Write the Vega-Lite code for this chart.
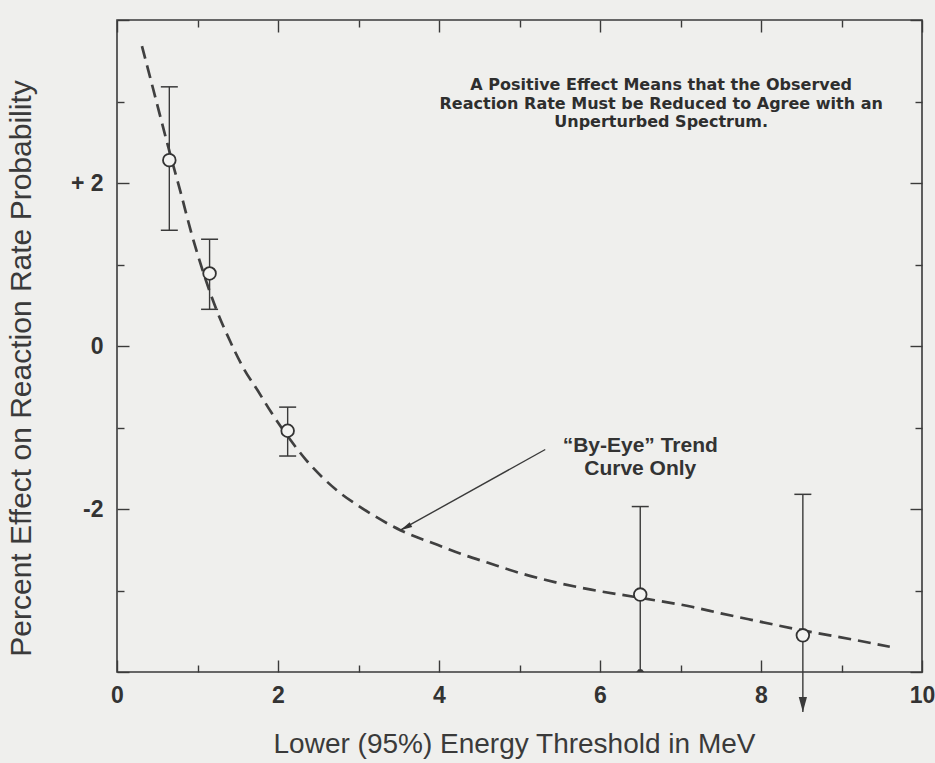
{
  "$schema": "https://vega.github.io/schema/vega-lite/v6.json",
  "width": 805,
  "height": 652,
  "autosize": {"type": "none"},
  "padding": {"left": 117, "top": 20, "right": 13, "bottom": 91},
  "background": "#efefed",
  "config": {
    "font": "Liberation Sans",
    "view": {"stroke": "#3a3a3a", "strokeWidth": 1.6},
    "axis": {"domain": false, "grid": false, "tickColor": "#3a3a3a", "tickWidth": 1.4, "labelColor": "#333333", "titleColor": "#3a3a3a"}
  },
  "datasets": {
    "trend": [
      {"energy": 0.31, "effect": 3.68},
      {"energy": 0.45, "effect": 3.15},
      {"energy": 0.64, "effect": 2.43},
      {"energy": 0.8, "effect": 1.85},
      {"energy": 0.92, "effect": 1.40},
      {"energy": 1.05, "effect": 0.97},
      {"energy": 1.23, "effect": 0.46},
      {"energy": 1.4, "effect": 0.07},
      {"energy": 1.57, "effect": -0.27},
      {"energy": 1.75, "effect": -0.55},
      {"energy": 1.92, "effect": -0.82},
      {"energy": 2.13, "effect": -1.12},
      {"energy": 2.35, "effect": -1.40},
      {"energy": 2.55, "effect": -1.61},
      {"energy": 2.73, "effect": -1.77},
      {"energy": 2.95, "effect": -1.93},
      {"energy": 3.14, "effect": -2.05},
      {"energy": 3.52, "effect": -2.26},
      {"energy": 3.98, "effect": -2.44},
      {"energy": 4.3, "effect": -2.56},
      {"energy": 4.61, "effect": -2.66},
      {"energy": 5.02, "effect": -2.79},
      {"energy": 5.45, "effect": -2.90},
      {"energy": 5.89, "effect": -2.99},
      {"energy": 6.5, "effect": -3.09},
      {"energy": 7.14, "effect": -3.20},
      {"energy": 7.5, "effect": -3.28},
      {"energy": 7.88, "effect": -3.36},
      {"energy": 8.52, "effect": -3.49},
      {"energy": 9.13, "effect": -3.60},
      {"energy": 9.6, "effect": -3.69}
    ],
    "measured": [
      {"energy": 0.65, "effect": 2.28, "lo": 1.42, "hi": 3.18, "lowEnd": "cap"},
      {"energy": 1.15, "effect": 0.89, "lo": 0.45, "hi": 1.31, "lowEnd": "cap"},
      {"energy": 2.12, "effect": -1.04, "lo": -1.35, "hi": -0.75, "lowEnd": "cap"},
      {"energy": 6.5, "effect": -3.05, "lo": -4.0, "hi": -1.97, "lowEnd": "base"},
      {"energy": 8.52, "effect": -3.55, "lo": -4.49, "hi": -1.82, "lowEnd": "arrow"}
    ],
    "pointer": [
      {"energy": 5.32, "effect": -1.27, "energy2": 3.52, "effect2": -2.26}
    ],
    "notes": [
      {"energy": 6.76, "effect": 3.2, "kind": "top", "text": "A Positive Effect Means that the Observed\nReaction Rate Must be Reduced to Agree with an\nUnperturbed Spectrum."},
      {"energy": 6.5, "effect": -1.227, "kind": "trend", "text": "“By-Eye” Trend\nCurve Only"}
    ]
  },
  "layer": [
    {
      "data": {"name": "trend"},
      "mark": {"type": "line", "stroke": "#404040", "strokeWidth": 2.7, "strokeDash": [13, 7], "interpolate": "monotone"},
      "encoding": {
        "x": {"field": "energy", "type": "quantitative", "scale": {"domain": [0, 10], "nice": false},
          "axis": {"orient": "bottom", "values": [0, 2, 4, 6, 8, 10], "ticks": false, "labelPadding": 12, "labelFontSize": 23, "labelFontWeight": "bold", "labelFlush": false,
            "title": "Lower (95%) Energy Threshold in MeV", "titleFontSize": 28, "titleFontWeight": "normal", "titleBaseline": "alphabetic", "titleY": 80, "titleX": 397}},
        "y": {"field": "effect", "type": "quantitative", "scale": {"domain": [-4, 4], "nice": false, "zero": false},
          "axis": {"orient": "left", "values": [-2, 0, 2], "ticks": false, "labelPadding": 14, "labelFontSize": 23, "labelFontWeight": "bold",
            "labelExpr": "datum.value > 0 ? '+ ' + datum.value : (datum.value < 0 ? '-' + abs(datum.value) : '0')",
            "title": "Percent Effect on Reaction Rate Probability", "titleFontSize": 30, "titleFontWeight": "normal", "titleBaseline": "alphabetic", "titleAngle": 270, "titleX": -87, "titleY": 348}}
      }
    },
    {
      "data": {"name": "measured"},
      "mark": {"type": "rule", "stroke": "#3a3a3a", "strokeWidth": 1.4},
      "encoding": {
        "x": {"field": "energy", "type": "quantitative", "scale": {"domain": [0, 10]},
          "axis": {"orient": "bottom", "values": [0, 2, 4, 6, 8, 10], "tickSize": -12, "labels": false, "title": null}},
        "y": {"field": "lo", "type": "quantitative", "scale": {"domain": [-4, 4]},
          "axis": {"orient": "left", "values": [-4, -2, 0, 2, 4], "tickSize": -12, "labels": false, "title": null}},
        "y2": {"field": "hi"}
      }
    },
    {
      "data": {"name": "measured"},
      "transform": [
        {"fold": ["lo", "hi"], "as": ["end", "bound"]},
        {"filter": "datum.end == 'hi' || datum.lowEnd == 'cap'"}
      ],
      "mark": {"type": "tick", "orient": "horizontal", "size": 17, "thickness": 1.5, "color": "#3a3a3a", "opacity": 1},
      "encoding": {
        "x": {"field": "energy", "type": "quantitative", "scale": {"domain": [0, 10]},
          "axis": {"orient": "bottom", "values": [1, 3, 5, 7, 9], "tickSize": -7, "labels": false, "title": null}},
        "y": {"field": "bound", "type": "quantitative", "scale": {"domain": [-4, 4]},
          "axis": {"orient": "left", "values": [-3, -1, 1, 3], "tickSize": -7, "labels": false, "title": null}}
      }
    },
    {
      "data": {"name": "measured"},
      "transform": [{"filter": "datum.lowEnd == 'base'"}],
      "mark": {"type": "point", "shape": "M-1,0L1,0L0.45,-0.7L-0.45,-0.7Z", "size": 64, "filled": true, "color": "#3a3a3a", "opacity": 1},
      "encoding": {
        "x": {"field": "energy", "type": "quantitative", "scale": {"domain": [0, 10]}, "axis": null},
        "y": {"field": "lo", "type": "quantitative", "scale": {"domain": [-4, 4]}, "axis": null}
      }
    },
    {
      "data": {"name": "measured"},
      "transform": [{"filter": "datum.lowEnd == 'arrow'"}],
      "mark": {"type": "point", "shape": "M-0.55,-2L0.55,-2L0,0Z", "size": 225, "filled": true, "color": "#3a3a3a", "opacity": 1},
      "encoding": {
        "x": {"field": "energy", "type": "quantitative", "scale": {"domain": [0, 10]},
          "axis": {"orient": "top", "values": [0, 2, 4, 6, 8, 10], "tickSize": -12, "labels": false, "title": null}},
        "y": {"field": "lo", "type": "quantitative", "scale": {"domain": [-4, 4]},
          "axis": {"orient": "right", "values": [-4, -2, 0, 2, 4], "tickSize": -12, "labels": false, "title": null}}
      }
    },
    {
      "data": {"name": "measured"},
      "mark": {"type": "point", "shape": "circle", "size": 160, "filled": true, "fill": "#f3f3f1", "stroke": "#333333", "strokeWidth": 1.8, "opacity": 1},
      "encoding": {
        "x": {"field": "energy", "type": "quantitative", "scale": {"domain": [0, 10]},
          "axis": {"orient": "top", "values": [1, 3, 5, 7, 9], "tickSize": -7, "labels": false, "title": null}},
        "y": {"field": "effect", "type": "quantitative", "scale": {"domain": [-4, 4]},
          "axis": {"orient": "right", "values": [-3, -1, 1, 3], "tickSize": -7, "labels": false, "title": null}}
      }
    },
    {
      "data": {"name": "pointer"},
      "mark": {"type": "rule", "stroke": "#3a3a3a", "strokeWidth": 1.4},
      "encoding": {
        "x": {"field": "energy", "type": "quantitative", "scale": {"domain": [0, 10]}, "axis": null},
        "y": {"field": "effect", "type": "quantitative", "scale": {"domain": [-4, 4]}, "axis": null},
        "x2": {"field": "energy2"},
        "y2": {"field": "effect2"}
      }
    },
    {
      "data": {"name": "pointer"},
      "mark": {"type": "point", "shape": "M0,0L0.45,2L-0.45,2Z", "size": 144, "angle": 242, "filled": true, "color": "#333333", "opacity": 1},
      "encoding": {
        "x": {"field": "energy2", "type": "quantitative", "scale": {"domain": [0, 10]}, "axis": null},
        "y": {"field": "effect2", "type": "quantitative", "scale": {"domain": [-4, 4]}, "axis": null}
      }
    },
    {
      "data": {"name": "notes"},
      "transform": [{"filter": "datum.kind == 'top'"}],
      "mark": {"type": "text", "lineBreak": "\n", "font": "DejaVu Sans", "fontSize": 16, "fontWeight": "bold", "lineHeight": 18.5, "align": "center", "baseline": "middle", "color": "#2e2e2e"},
      "encoding": {
        "x": {"field": "energy", "type": "quantitative", "scale": {"domain": [0, 10]}, "axis": null},
        "y": {"field": "effect", "type": "quantitative", "scale": {"domain": [-4, 4]}, "axis": null},
        "text": {"field": "text"}
      }
    },
    {
      "data": {"name": "notes"},
      "transform": [{"filter": "datum.kind == 'trend'"}],
      "mark": {"type": "text", "lineBreak": "\n", "fontSize": 21, "fontWeight": "bold", "lineHeight": 23, "align": "center", "baseline": "middle", "color": "#333333"},
      "encoding": {
        "x": {"field": "energy", "type": "quantitative", "scale": {"domain": [0, 10]}, "axis": null},
        "y": {"field": "effect", "type": "quantitative", "scale": {"domain": [-4, 4]}, "axis": null},
        "text": {"field": "text"}
      }
    }
  ],
  "resolve": {"axis": {"x": "independent", "y": "independent"}}
}
